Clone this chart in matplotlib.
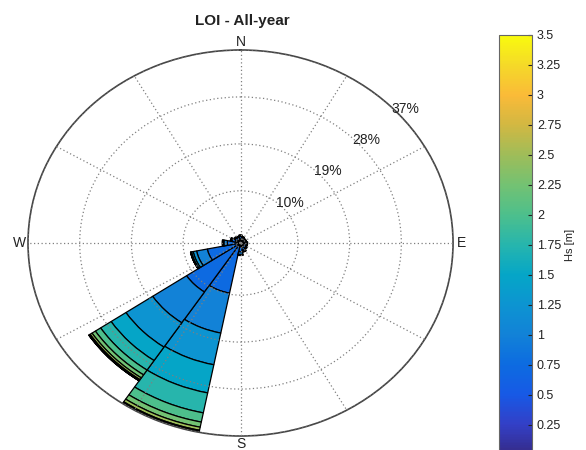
import numpy as np
import matplotlib
matplotlib.use("Agg")
import matplotlib.pyplot as plt
from matplotlib.colors import LinearSegmentedColormap, Normalize
from matplotlib.cm import ScalarMappable

plt.rcParams["font.family"] = ["Liberation Sans", "DejaVu Sans"]

# wave direction sectors (coming from), clockwise from north
directions = ["N", "NNE", "NE", "ENE", "E", "ESE", "SE", "SSE",
              "S", "SSW", "SW", "WSW", "W", "WNW", "NW", "NNW"]
# Hs classes [m]
hs_edges = [0, 0.25, 0.5, 0.75, 1.0, 1.25, 1.5, 1.75, 2.0,
            2.25, 2.5, 2.75, 3.0, 3.25, 3.5]

# frequency [%] per Hs class, one list per direction
freq_N = [0.25, 0.5, 0.5, 0.2, 0.1]
freq_NNE = [0.2, 0.45, 0.4, 0.15, 0.05]
freq_NE = [0.2, 0.45, 0.35, 0.1]
freq_ENE = [0.2, 0.45, 0.35, 0.1]
freq_E = [0.25, 0.5, 0.4, 0.1]
freq_ESE = [0.25, 0.5, 0.4, 0.1]
freq_SE = [0.25, 0.5, 0.5, 0.2]
freq_SSE = [0.25, 0.6, 0.6, 0.25, 0.1]
freq_S = [0.2, 0.5, 1.0, 0.5, 0.15, 0.05]
freq_SSW = [0.1, 0.3, 9.4, 7.8, 6.2, 5.5, 3.9, 1.8, 1.0, 0.6, 0.15, 0.08, 0.03, 0.02]
freq_SW = [0.1, 0.3, 10.9, 7.1, 5.6, 3.1, 2.2, 1.1, 0.7, 0.4, 0.15, 0.08, 0.03, 0.02]
freq_WSW = [0.1, 0.3, 5.5, 1.9, 0.6, 0.3, 0.1, 0.05, 0.02, 0.01]
freq_W = [0.2, 0.5, 1.6, 0.6, 0.2, 0.1]
freq_WNW = [0.25, 0.6, 0.7, 0.25, 0.05]
freq_NW = [0.25, 0.5, 0.5, 0.2]
freq_NNW = [0.25, 0.5, 0.45, 0.15]

ring_ticks = [10, 19, 28, 37]

# parula-like colormap (navy -> blue -> teal -> green -> orange -> yellow)
parula_pts = [
    (0.208, 0.166, 0.529), (0.200, 0.250, 0.780), (0.090, 0.350, 0.900),
    (0.050, 0.420, 0.880), (0.070, 0.510, 0.845), (0.050, 0.580, 0.820),
    (0.020, 0.650, 0.780), (0.150, 0.710, 0.680), (0.300, 0.750, 0.550),
    (0.450, 0.760, 0.450), (0.620, 0.740, 0.350), (0.820, 0.720, 0.260),
    (0.980, 0.730, 0.220), (0.960, 0.850, 0.160), (0.976, 0.983, 0.054),
]
parula = LinearSegmentedColormap.from_list("parula", parula_pts)
norm = Normalize(vmin=hs_edges[0], vmax=hs_edges[-1])

table = [freq_N, freq_NNE, freq_NE, freq_ENE, freq_E, freq_ESE, freq_SE, freq_SSE,
         freq_S, freq_SSW, freq_SW, freq_WSW, freq_W, freq_WNW, freq_NW, freq_NNW]
nbins = len(hs_edges) - 1
theta = np.deg2rad(np.arange(len(directions)) * 360.0 / len(directions))
width = 2 * np.pi / len(directions)

fig = plt.figure(figsize=(5.86, 4.5), dpi=100)
ax = fig.add_axes([0.0478, 0.0311, 0.7253, 0.8578], projection="polar")
ax.set_aspect("auto")
ax.set_theta_zero_location("N")
ax.set_theta_direction(-1)

for k in range(nbins):
    heights = np.array([row[k] if k < len(row) else 0.0 for row in table])
    bottoms = np.array([sum(row[:k]) for row in table])
    keep = heights > 0
    ax.bar(theta[keep], heights[keep], width=width, bottom=bottoms[keep],
           color=parula(norm(hs_edges[k + 1])), edgecolor="black",
           linewidth=0.9, zorder=1)

ax.set_ylim(0, ring_ticks[-1])
ax.set_axisbelow(False)
ax.set_yticks(ring_ticks)
ax.set_yticklabels([])
ax.set_xticks(np.deg2rad(np.arange(0, 360, 30)))
ax.set_xticklabels([])
ax.grid(True, linestyle=(0, (1, 2)), color="#808080", linewidth=0.9)
ax.spines["polar"].set_color("#444444")
ax.spines["polar"].set_linewidth(1.2)

# ring labels along the NE diagonal
for t in ring_ticks:
    ax.text(np.deg2rad(48), t + 1.5, f"{t}%", fontsize=10,
            ha="center", va="center", color="#222222")

for lab, ang in zip(["N", "E", "S", "W"], [0, 90, 180, 270]):
    ax.text(np.deg2rad(ang), ring_ticks[-1] * 1.04, lab, fontsize=10,
            ha="center", va="center", color="#222222")

fig.text(0.413, 0.953, "LOI - All-year", fontsize=11, fontweight="bold",
         ha="center", va="center", color="#222222")

cax = fig.add_axes([0.8515, -0.011, 0.0563, 0.9333])
cb = fig.colorbar(ScalarMappable(norm=norm, cmap=parula), cax=cax)
cb.set_ticks(hs_edges[1:])
cb.set_ticklabels([f"{v:g}" for v in hs_edges[1:]])
cb.ax.tick_params(direction="in", length=3, labelsize=9, colors="#222222")
cb.outline.set_edgecolor("#666666")
cb.set_label("Hs [m]", fontsize=8, color="#222222", labelpad=3)

fig.savefig("out.png", dpi=100)
